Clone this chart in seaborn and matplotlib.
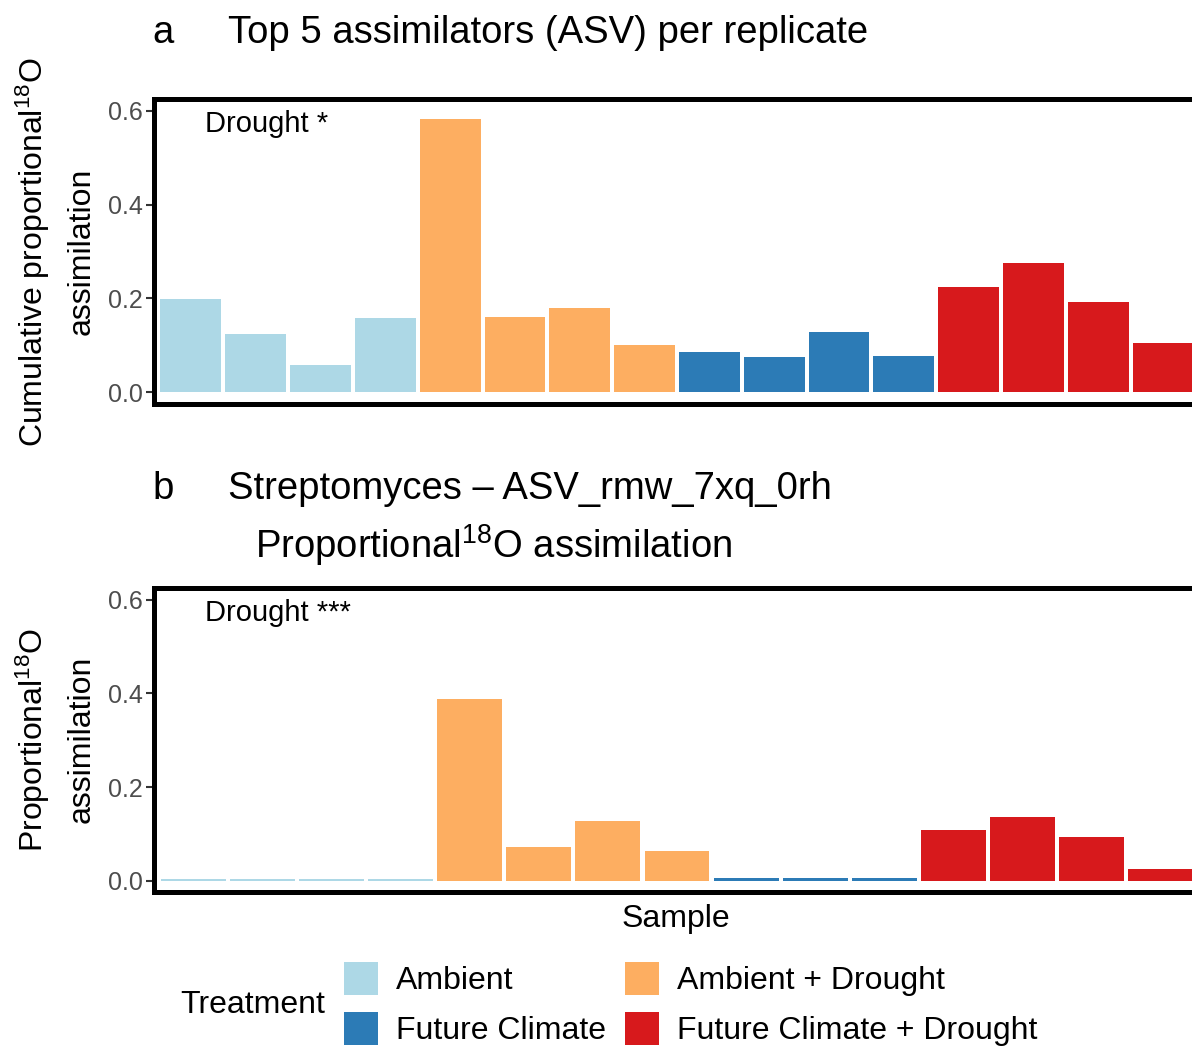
import matplotlib
matplotlib.use("Agg")
import matplotlib.pyplot as plt
import matplotlib.transforms as mtransforms
import seaborn as sns
import pandas as pd
from matplotlib.patches import Patch

sns.set_theme(style="white")
plt.rcParams['font.family'] = ['Liberation Sans', 'DejaVu Sans']
plt.rcParams['mathtext.fontset'] = 'custom'
plt.rcParams['mathtext.rm'] = 'Liberation Sans'
plt.rcParams['mathtext.it'] = 'Liberation Sans:italic'
plt.rcParams['text.color'] = 'black'

# ---------------- data ----------------
treatments = ["Ambient", "Ambient + Drought", "Future Climate", "Future Climate + Drought"]
colors = ["#ADD8E6", "#FDAE61", "#2C7BB6", "#D7191C"]

samples_a = [f"S{i}" for i in range(1, 17)]
treat_a = ["Ambient"] * 4 + ["Ambient + Drought"] * 4 + ["Future Climate"] * 4 + ["Future Climate + Drought"] * 4
values_a = [0.199, 0.124, 0.058, 0.158, 0.581, 0.161, 0.180, 0.101,
            0.086, 0.076, 0.129, 0.078, 0.225, 0.275, 0.192, 0.105]

samples_b = [f"S{i}" for i in range(1, 16)]
treat_b = ["Ambient"] * 4 + ["Ambient + Drought"] * 4 + ["Future Climate"] * 3 + ["Future Climate + Drought"] * 4
values_b = [0.004, 0.004, 0.004, 0.004, 0.388, 0.073, 0.128, 0.063,
            0.006, 0.006, 0.006, 0.109, 0.136, 0.093, 0.025]

yticks = [0.0, 0.2, 0.4, 0.6]
ytick_labels = ["0.0", "0.2", "0.4", "0.6"]

palette = dict(zip(treatments, colors))

W, H = 1192, 1048
fig = plt.figure(figsize=(W / 100, H / 100), dpi=100)


def px_axes(l, t, r, b):
    return fig.add_axes([l / W, 1 - b / H, (r - l) / W, (b - t) / H])


def draw_panel(ax, samples, treat, values, ylim, note):
    df = pd.DataFrame({"Sample": samples, "Treatment": treat, "value": values})
    sns.barplot(data=df, x="Sample", y="value", hue="Treatment", order=samples,
                hue_order=treatments, palette=palette, dodge=False, width=0.94,
                saturation=1, legend=False, ax=ax, linewidth=0)
    n = len(samples)
    ax.set_xlim(-0.57, n - 1 + 0.57)
    ax.set_ylim(*ylim)
    ax.set_yticks(yticks)
    ax.set_yticklabels(ytick_labels)
    ax.set_xticks([])
    ax.set_xlabel("")
    ax.set_ylabel("")
    ax.tick_params(axis="y", left=True, length=6, width=1.5, color="#333333",
                   labelsize=18, labelcolor="#4D4D4D", pad=2)
    for s in ax.spines.values():
        s.set_visible(True)
        s.set_color("black")
        s.set_linewidth(3.6)
    trans = mtransforms.blended_transform_factory(ax.transAxes, ax.transData)
    ax.text(0.0488, 0.554, note, transform=trans,
            fontsize=21, ha="left", va="baseline", color="black")


ax_a = px_axes(154, 99, 1200, 404)
draw_panel(ax_a, samples_a, treat_a, values_a, (-0.0245, 0.6245), "Drought *")

ax_b = px_axes(154, 588, 1200, 892)
draw_panel(ax_b, samples_b, treat_b, values_b, (-0.024, 0.625), "Drought ***")

TS = 27.5
# titles
fig.text(152 / W, 1 - 33 / H, "a", fontsize=TS, ha="left", va="center")
fig.text(228 / W, 1 - 33 / H, "Top 5 assimilators (ASV) per replicate", fontsize=TS, ha="left", va="center")
fig.text(152 / W, 1 - 489 / H, "b", fontsize=TS, ha="left", va="center")
fig.text(228 / W, 1 - 489 / H, "Streptomyces \u2013 ASV_rmw_7xq_0rh", fontsize=TS, ha="left", va="center")
fig.text(255 / W, 1 - 545 / H, "Proportional$^{18}$O assimilation", fontsize=TS, ha="left", va="center")

AS = 23
# y labels
fig.text(33 / W, 1 - 252 / H, "Cumulative proportional$^{18}$O", fontsize=AS, rotation=90, ha="center", va="center")
fig.text(82 / W, 1 - 251 / H, "assimilation", fontsize=AS, rotation=90, ha="center", va="center")
fig.text(33 / W, 1 - 740 / H, "Proportional$^{18}$O", fontsize=AS, rotation=90, ha="center", va="center")
fig.text(82 / W, 1 - 739 / H, "assimilation", fontsize=AS, rotation=90, ha="center", va="center")

# x label
fig.text(676 / W, 1 - 919 / H, "Sample", fontsize=AS, ha="center", va="center")

# legend
fig.text(180 / W, 1 - 1005 / H, "Treatment", fontsize=AS, ha="left", va="center")
order = ["Ambient", "Future Climate", "Ambient + Drought", "Future Climate + Drought"]
handles = [Patch(facecolor=palette[t], edgecolor="none", label=t) for t in order]
fig.legend(handles=handles, loc="upper left", bbox_to_anchor=(344 / W, 1 - 962 / H),
           ncol=2, frameon=False, fontsize=AS, handlelength=1.06, handleheight=1.2,
           handletextpad=0.56, columnspacing=0.6, labelspacing=0.5, borderpad=0,
           borderaxespad=0)

fig.savefig("out.png", dpi=100)
